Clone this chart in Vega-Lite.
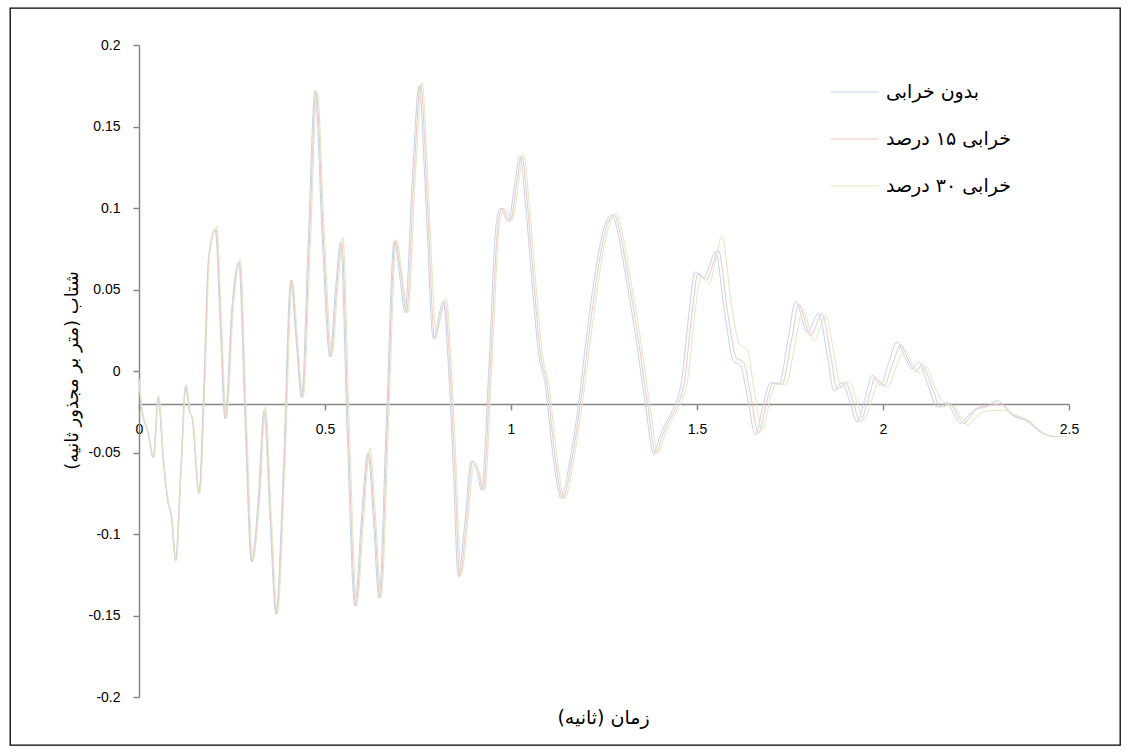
{
  "$schema": "https://vega.github.io/schema/vega-lite/v6.json",
  "width": 1110,
  "height": 737,
  "autosize": {"type": "none"},
  "padding": {"left": 10, "top": 8, "right": 8, "bottom": 10},
  "background": "#ffffff",
  "config": {
    "view": {"stroke": "#000000", "strokeWidth": 1.3},
    "font": "Liberation Sans"
  },
  "datasets": {
    "s0": [
      {"t":0.000,"v":-0.005},{"t":0.006,"v":-0.022},{"t":0.024,"v":-0.038},{"t":0.038,"v":-0.053},{"t":0.051,"v":-0.016},
      {"t":0.065,"v":-0.055},{"t":0.078,"v":-0.081},{"t":0.086,"v":-0.088},{"t":0.098,"v":-0.116},{"t":0.112,"v":-0.060},
      {"t":0.125,"v":-0.009},{"t":0.136,"v":-0.025},{"t":0.142,"v":-0.028},{"t":0.161,"v":-0.075},{"t":0.174,"v":-0.010},
      {"t":0.187,"v":0.070},{"t":0.205,"v":0.087},{"t":0.218,"v":0.030},{"t":0.231,"v":-0.029},{"t":0.250,"v":0.040},
      {"t":0.268,"v":0.067},{"t":0.285,"v":-0.030},{"t":0.302,"v":-0.117},{"t":0.320,"v":-0.080},{"t":0.336,"v":-0.024},
      {"t":0.352,"v":-0.090},{"t":0.368,"v":-0.149},{"t":0.388,"v":-0.060},{"t":0.408,"v":0.056},{"t":0.422,"v":0.020},
      {"t":0.437,"v":-0.016},{"t":0.455,"v":0.080},{"t":0.473,"v":0.172},{"t":0.493,"v":0.080},{"t":0.513,"v":0.009},
      {"t":0.528,"v":0.050},{"t":0.542,"v":0.079},{"t":0.560,"v":-0.040},{"t":0.580,"v":-0.144},{"t":0.598,"v":-0.090},
      {"t":0.615,"v":-0.050},{"t":0.630,"v":-0.090},{"t":0.645,"v":-0.139},{"t":0.665,"v":-0.030},{"t":0.686,"v":0.080},
      {"t":0.700,"v":0.060},{"t":0.715,"v":0.036},{"t":0.735,"v":0.120},{"t":0.753,"v":0.175},{"t":0.772,"v":0.100},
      {"t":0.791,"v":0.020},{"t":0.818,"v":0.043},{"t":0.830,"v":0.010},{"t":0.845,"v":-0.060},{"t":0.858,"v":-0.126},
      {"t":0.875,"v":-0.095},{"t":0.893,"v":-0.055},{"t":0.907,"v":-0.060},{"t":0.921,"v":-0.073},{"t":0.940,"v":0.000},
      {"t":0.960,"v":0.090},{"t":0.971,"v":0.100},{"t":0.993,"v":0.092},{"t":1.010,"v":0.115},{"t":1.024,"v":0.132},
      {"t":1.040,"v":0.100},{"t":1.056,"v":0.056},{"t":1.074,"v":0.011},{"t":1.092,"v":-0.008},{"t":1.112,"v":-0.050},
      {"t":1.135,"v":-0.078},{"t":1.158,"v":-0.055},{"t":1.181,"v":-0.021},{"t":1.205,"v":0.025},{"t":1.226,"v":0.060},
      {"t":1.250,"v":0.088},{"t":1.271,"v":0.096},{"t":1.290,"v":0.082},{"t":1.307,"v":0.060},{"t":1.334,"v":0.023},
      {"t":1.361,"v":-0.020},{"t":1.383,"v":-0.0505},{"t":1.400,"v":-0.040},{"t":1.415,"v":-0.032},{"t":1.432,"v":-0.025},
      {"t":1.459,"v":-0.005},{"t":1.478,"v":0.035},{"t":1.495,"v":0.061},{"t":1.518,"v":0.057},{"t":1.535,"v":0.066},
      {"t":1.549,"v":0.0734},{"t":1.575,"v":0.035},{"t":1.598,"v":0.006},{"t":1.616,"v":0.004},{"t":1.635,"v":-0.015},
      {"t":1.657,"v":-0.039},{"t":1.680,"v":-0.018},{"t":1.697,"v":-0.007},{"t":1.720,"v":-0.008},{"t":1.745,"v":0.020},
      {"t":1.765,"v":0.043},{"t":1.796,"v":0.024},{"t":1.827,"v":0.0355},{"t":1.850,"v":0.010},{"t":1.868,"v":-0.012},
      {"t":1.890,"v":-0.007},{"t":1.910,"v":-0.018},{"t":1.930,"v":-0.031},{"t":1.950,"v":-0.018},{"t":1.971,"v":-0.0025},
      {"t":1.993,"v":-0.0086},{"t":2.015,"v":0.005},{"t":2.038,"v":0.018},{"t":2.060,"v":0.008},{"t":2.078,"v":0.0016},
      {"t":2.096,"v":0.0057},{"t":2.120,"v":-0.008},{"t":2.146,"v":-0.022},{"t":2.172,"v":-0.019},{"t":2.190,"v":-0.026},
      {"t":2.208,"v":-0.032},{"t":2.230,"v":-0.027},{"t":2.249,"v":-0.023},{"t":2.276,"v":-0.022},{"t":2.307,"v":-0.018},
      {"t":2.347,"v":-0.027},{"t":2.383,"v":-0.030},{"t":2.428,"v":-0.038},{"t":2.460,"v":-0.040},{"t":2.490,"v":-0.040}
    ],
    "s15": [
      {"t":0.000,"v":-0.005},{"t":0.007,"v":-0.022},{"t":0.025,"v":-0.038},{"t":0.039,"v":-0.053},{"t":0.052,"v":-0.016},
      {"t":0.066,"v":-0.055},{"t":0.079,"v":-0.081},{"t":0.087,"v":-0.088},{"t":0.099,"v":-0.116},{"t":0.113,"v":-0.060},
      {"t":0.126,"v":-0.009},{"t":0.137,"v":-0.025},{"t":0.143,"v":-0.028},{"t":0.162,"v":-0.075},{"t":0.175,"v":-0.010},
      {"t":0.188,"v":0.070},{"t":0.207,"v":0.087},{"t":0.220,"v":0.030},{"t":0.233,"v":-0.029},{"t":0.252,"v":0.040},
      {"t":0.270,"v":0.067},{"t":0.287,"v":-0.030},{"t":0.304,"v":-0.117},{"t":0.322,"v":-0.080},{"t":0.338,"v":-0.024},
      {"t":0.354,"v":-0.090},{"t":0.370,"v":-0.149},{"t":0.390,"v":-0.060},{"t":0.410,"v":0.056},{"t":0.424,"v":0.020},
      {"t":0.439,"v":-0.016},{"t":0.458,"v":0.080},{"t":0.476,"v":0.172},{"t":0.496,"v":0.080},{"t":0.516,"v":0.009},
      {"t":0.531,"v":0.050},{"t":0.545,"v":0.079},{"t":0.563,"v":-0.040},{"t":0.583,"v":-0.144},{"t":0.601,"v":-0.090},
      {"t":0.618,"v":-0.050},{"t":0.633,"v":-0.090},{"t":0.648,"v":-0.139},{"t":0.668,"v":-0.030},{"t":0.689,"v":0.080},
      {"t":0.704,"v":0.060},{"t":0.719,"v":0.036},{"t":0.739,"v":0.120},{"t":0.757,"v":0.176},{"t":0.776,"v":0.100},
      {"t":0.795,"v":0.020},{"t":0.822,"v":0.043},{"t":0.834,"v":0.010},{"t":0.849,"v":-0.060},{"t":0.862,"v":-0.126},
      {"t":0.879,"v":-0.095},{"t":0.897,"v":-0.055},{"t":0.911,"v":-0.060},{"t":0.925,"v":-0.073},{"t":0.944,"v":0.000},
      {"t":0.965,"v":0.090},{"t":0.976,"v":0.100},{"t":0.998,"v":0.092},{"t":1.015,"v":0.115},{"t":1.029,"v":0.132},
      {"t":1.045,"v":0.100},{"t":1.061,"v":0.056},{"t":1.079,"v":0.011},{"t":1.097,"v":-0.008},{"t":1.117,"v":-0.050},
      {"t":1.140,"v":-0.078},{"t":1.163,"v":-0.055},{"t":1.186,"v":-0.021},{"t":1.211,"v":0.025},{"t":1.232,"v":0.060},
      {"t":1.256,"v":0.088},{"t":1.277,"v":0.096},{"t":1.296,"v":0.082},{"t":1.313,"v":0.060},{"t":1.340,"v":0.023},
      {"t":1.367,"v":-0.020},{"t":1.389,"v":-0.0505},{"t":1.406,"v":-0.040},{"t":1.421,"v":-0.032},{"t":1.438,"v":-0.025},
      {"t":1.467,"v":-0.005},{"t":1.486,"v":0.035},{"t":1.503,"v":0.060},{"t":1.526,"v":0.056},{"t":1.543,"v":0.066},
      {"t":1.557,"v":0.0745},{"t":1.583,"v":0.035},{"t":1.606,"v":0.008},{"t":1.624,"v":0.006},{"t":1.643,"v":-0.013},
      {"t":1.665,"v":-0.038},{"t":1.688,"v":-0.018},{"t":1.705,"v":-0.007},{"t":1.728,"v":-0.008},{"t":1.754,"v":0.019},
      {"t":1.774,"v":0.041},{"t":1.805,"v":0.022},{"t":1.836,"v":0.035},{"t":1.859,"v":0.010},{"t":1.877,"v":-0.011},
      {"t":1.899,"v":-0.007},{"t":1.919,"v":-0.018},{"t":1.939,"v":-0.031},{"t":1.959,"v":-0.018},{"t":1.980,"v":-0.004},
      {"t":2.002,"v":-0.009},{"t":2.025,"v":0.004},{"t":2.048,"v":0.016},{"t":2.070,"v":0.006},{"t":2.088,"v":0.000},
      {"t":2.106,"v":0.004},{"t":2.130,"v":-0.009},{"t":2.156,"v":-0.022},{"t":2.182,"v":-0.020},{"t":2.200,"v":-0.027},
      {"t":2.218,"v":-0.032},{"t":2.240,"v":-0.026},{"t":2.259,"v":-0.022},{"t":2.286,"v":-0.021},{"t":2.317,"v":-0.020},
      {"t":2.352,"v":-0.027},{"t":2.386,"v":-0.030},{"t":2.430,"v":-0.038},{"t":2.462,"v":-0.040},{"t":2.490,"v":-0.040}
    ],
    "s30": [
      {"t":0.000,"v":-0.005},{"t":0.008,"v":-0.022},{"t":0.026,"v":-0.038},{"t":0.040,"v":-0.053},{"t":0.053,"v":-0.015},
      {"t":0.067,"v":-0.055},{"t":0.080,"v":-0.081},{"t":0.088,"v":-0.088},{"t":0.100,"v":-0.116},{"t":0.114,"v":-0.060},
      {"t":0.127,"v":-0.008},{"t":0.138,"v":-0.025},{"t":0.144,"v":-0.028},{"t":0.163,"v":-0.075},{"t":0.177,"v":-0.010},
      {"t":0.190,"v":0.072},{"t":0.209,"v":0.089},{"t":0.222,"v":0.030},{"t":0.235,"v":-0.029},{"t":0.254,"v":0.040},
      {"t":0.272,"v":0.069},{"t":0.289,"v":-0.030},{"t":0.306,"v":-0.116},{"t":0.324,"v":-0.080},{"t":0.340,"v":-0.022},
      {"t":0.356,"v":-0.090},{"t":0.372,"v":-0.148},{"t":0.392,"v":-0.060},{"t":0.412,"v":0.056},{"t":0.426,"v":0.020},
      {"t":0.441,"v":-0.016},{"t":0.461,"v":0.080},{"t":0.479,"v":0.171},{"t":0.499,"v":0.080},{"t":0.519,"v":0.011},
      {"t":0.534,"v":0.050},{"t":0.548,"v":0.082},{"t":0.566,"v":-0.040},{"t":0.586,"v":-0.142},{"t":0.604,"v":-0.090},
      {"t":0.621,"v":-0.047},{"t":0.636,"v":-0.090},{"t":0.651,"v":-0.138},{"t":0.671,"v":-0.030},{"t":0.692,"v":0.081},
      {"t":0.708,"v":0.058},{"t":0.723,"v":0.036},{"t":0.743,"v":0.120},{"t":0.761,"v":0.177},{"t":0.780,"v":0.100},
      {"t":0.799,"v":0.025},{"t":0.826,"v":0.045},{"t":0.838,"v":0.010},{"t":0.853,"v":-0.060},{"t":0.866,"v":-0.125},
      {"t":0.883,"v":-0.095},{"t":0.901,"v":-0.057},{"t":0.915,"v":-0.062},{"t":0.929,"v":-0.073},{"t":0.948,"v":0.000},
      {"t":0.969,"v":0.090},{"t":0.981,"v":0.100},{"t":1.003,"v":0.093},{"t":1.020,"v":0.115},{"t":1.034,"v":0.133},
      {"t":1.050,"v":0.100},{"t":1.066,"v":0.056},{"t":1.084,"v":0.011},{"t":1.102,"v":-0.008},{"t":1.122,"v":-0.050},
      {"t":1.145,"v":-0.078},{"t":1.168,"v":-0.055},{"t":1.191,"v":-0.021},{"t":1.217,"v":0.025},{"t":1.238,"v":0.060},
      {"t":1.262,"v":0.088},{"t":1.283,"v":0.097},{"t":1.302,"v":0.082},{"t":1.319,"v":0.060},{"t":1.346,"v":0.023},
      {"t":1.373,"v":-0.020},{"t":1.395,"v":-0.050},{"t":1.412,"v":-0.040},{"t":1.427,"v":-0.032},{"t":1.444,"v":-0.025},
      {"t":1.475,"v":-0.005},{"t":1.494,"v":0.035},{"t":1.511,"v":0.058},{"t":1.534,"v":0.054},{"t":1.551,"v":0.070},
      {"t":1.567,"v":0.083},{"t":1.593,"v":0.040},{"t":1.616,"v":0.016},{"t":1.634,"v":0.014},{"t":1.653,"v":-0.010},
      {"t":1.675,"v":-0.036},{"t":1.698,"v":-0.016},{"t":1.715,"v":-0.007},{"t":1.738,"v":-0.008},{"t":1.764,"v":0.017},
      {"t":1.784,"v":0.038},{"t":1.815,"v":0.019},{"t":1.846,"v":0.034},{"t":1.869,"v":0.010},{"t":1.887,"v":-0.010},
      {"t":1.909,"v":-0.006},{"t":1.929,"v":-0.018},{"t":1.949,"v":-0.030},{"t":1.969,"v":-0.018},{"t":1.990,"v":-0.006},
      {"t":2.012,"v":-0.010},{"t":2.035,"v":0.002},{"t":2.058,"v":0.013},{"t":2.080,"v":0.004},{"t":2.098,"v":-0.001},
      {"t":2.116,"v":0.003},{"t":2.140,"v":-0.010},{"t":2.166,"v":-0.020},{"t":2.192,"v":-0.022},{"t":2.210,"v":-0.028},
      {"t":2.228,"v":-0.033},{"t":2.250,"v":-0.028},{"t":2.269,"v":-0.025},{"t":2.296,"v":-0.024},{"t":2.327,"v":-0.024},
      {"t":2.357,"v":-0.027},{"t":2.390,"v":-0.030},{"t":2.432,"v":-0.038},{"t":2.464,"v":-0.040},{"t":2.490,"v":-0.040}
    ]
  },
  "layer": [
    {
      "data": {"name": "s0"},
      "mark": {"type": "line", "strokeWidth": 1, "interpolate": "monotone"},
      "encoding": {
        "x": {
          "field": "t", "type": "quantitative",
          "scale": {"domain": [0, 2.5], "range": [129, 1059], "nice": false, "zero": false},
          "axis": {
            "orient": "bottom", "offset": -341.1,
            "values": [0, 0.5, 1, 1.5, 2, 2.5],
            "labelExpr": "'' + datum.value",
            "grid": false, "domainColor": "#878787", "domainWidth": 1.5,
            "tickColor": "#878787", "tickWidth": 1.5, "tickSize": 6,
            "labelFont": "Liberation Sans", "labelFontSize": 14, "labelColor": "#000000",
            "labelPadding": 13, "labelFlush": false, "labelOverlap": false,
            "title": "\u200fزمان (ثانیه)\u200f",
            "titleFont": "DejaVu Sans", "titleFontSize": 19, "titleFontWeight": "normal", "titleColor": "#000000",
            "titleY": 314, "titleX": 593, "titleBaseline": "middle"
          }
        },
        "y": {
          "field": "v", "type": "quantitative",
          "scale": {"domain": [-0.2, 0.2], "range": [689.3, 37.3], "nice": false, "zero": false},
          "axis": {
            "orient": "left", "offset": -129,
            "values": [-0.2, -0.15, -0.1, -0.05, 0, 0.05, 0.1, 0.15, 0.2],
            "labelExpr": "'' + datum.value",
            "grid": false, "domainColor": "#878787", "domainWidth": 1.5,
            "tickColor": "#878787", "tickWidth": 1.5, "tickSize": 6,
            "labelFont": "Liberation Sans", "labelFontSize": 14, "labelColor": "#000000",
            "labelPadding": 13, "labelFlush": false, "labelOverlap": false,
            "title": "\u200fشتاب (متر بر مجذور ثانیه)\u200f",
            "titleFont": "DejaVu Sans", "titleFontSize": 18, "titleFontWeight": "normal", "titleColor": "#000000",
            "titleX": -67, "titleY": 362, "titleAngle": 270, "titleBaseline": "middle", "titleAlign": "center"
          }
        },
        "color": {
          "datum": "بدون خرابی", "type": "nominal",
          "scale": {
            "domain": ["بدون خرابی", "خرابی ۱۵ درصد", "خرابی ۳۰ درصد"],
            "range": ["#c3d4ec", "#efc6c5", "#e0e7c4"]
          },
          "legend": {
            "orient": "none", "legendX": 820, "legendY": 59, "title": null, "padding": 0,
            "symbolType": "stroke", "symbolSize": 2304, "symbolStrokeWidth": 1.2,
            "labelFont": "DejaVu Sans", "labelFontSize": 19, "labelColor": "#000000",
            "labelOffset": 6, "rowPadding": 12, "labelLimit": 300
          }
        }
      }
    },
    {
      "data": {"name": "s15"},
      "mark": {"type": "line", "strokeWidth": 1, "interpolate": "monotone"},
      "encoding": {
        "x": {"field": "t", "type": "quantitative"},
        "y": {"field": "v", "type": "quantitative"},
        "color": {"datum": "خرابی ۱۵ درصد", "type": "nominal"}
      }
    },
    {
      "data": {"name": "s30"},
      "mark": {"type": "line", "strokeWidth": 1, "interpolate": "monotone"},
      "encoding": {
        "x": {"field": "t", "type": "quantitative"},
        "y": {"field": "v", "type": "quantitative"},
        "color": {"datum": "خرابی ۳۰ درصد", "type": "nominal"}
      }
    }
  ]
}
